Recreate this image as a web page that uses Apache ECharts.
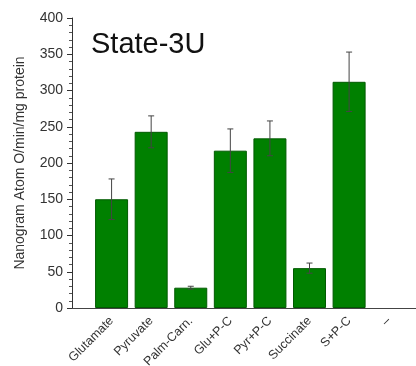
<!DOCTYPE html>
<html>
<head>
<meta charset="utf-8">
<script src="https://cdn.jsdelivr.net/npm/echarts@6/dist/echarts.min.js"></script>
<style>
    html, body { margin: 0; padding: 0; background: #fff; }
    #chart { width: 416px; height: 366px; }
</style>
</head>
<body>
<div id="chart"></div>
<script>
// substrates, position 0 is left empty, last one is the blank "–"
var categories = ['', 'Glutamate', 'Pyruvate', 'Palm-Carn.', 'Glu+P-C', 'Pyr+P-C', 'Succinate', 'S+P-C', '–'];
var rates = [150, 243, 28, 217, 234, 55, 312];
var errors = [28, 22, 2, 30, 24, 7, 41];

var barData = [], errData = [];
for (var i = 0; i < rates.length; i++) {
    barData.push([i + 1, rates[i]]);
    errData.push([i + 1, rates[i] - errors[i], rates[i] + errors[i]]);
}

var fontFam = "'Liberation Sans', Arial, sans-serif";
var myChart = echarts.init(document.getElementById('chart'));
var option = {
    backgroundColor: '#fff',
    animation: false,
    title: {
        text: 'State-3U',
        left: 86,
        top: 25,
        textStyle: { fontFamily: fontFam, fontSize: 29, fontWeight: 'normal', color: '#111' }
    },
    grid: {
        left: 72,
        right: 0,
        top: 18,
        bottom: 58,
        outerBoundsMode: 'none'
    },
    xAxis: {
        type: 'value',
        min: 0,
        max: 8.69,
        interval: 1,
        splitLine: { show: false },
        axisTick: { show: false },
        axisLine: { lineStyle: { color: '#444', width: 1 } },
        axisLabel: {
            rotate: 45,
            margin: 11,
            showMaxLabel: false,
            fontFamily: fontFam,
            fontSize: 12.5,
            color: '#333',
            formatter: function (v) {
                return categories[v] || '';
            }
        }
    },
    yAxis: {
        type: 'value',
        min: 0,
        max: 400,
        interval: 50,
        name: 'Nanogram Atom O/min/mg protein',
        nameLocation: 'middle',
        nameGap: 45,
        nameTextStyle: { fontFamily: fontFam, fontSize: 14, color: '#333' },
        splitLine: { show: false },
        axisLine: { show: true, lineStyle: { color: '#333', width: 1 } },
        axisTick: { show: true, length: 5, lineStyle: { color: '#333' } },
        minorTick: { show: true, splitNumber: 5, length: 3, lineStyle: { color: '#555' } },
        axisLabel: { margin: 9, fontFamily: fontFam, fontSize: 14, color: '#333' }
    },
    series: [
        {
            name: 'rate',
            type: 'bar',
            barWidth: 33,
            itemStyle: { color: '#008000', borderColor: '#005a00', borderWidth: 1 },
            data: barData
        },
        {
            name: 'sem',
            type: 'custom',
            z: 5,
            renderItem: function (params, api) {
                var x = api.value(0);
                var lo = api.coord([x, api.value(1)]);
                var hi = api.coord([x, api.value(2)]);
                var w = 3;
                var st = { stroke: '#444', lineWidth: 1 };
                return {
                    type: 'group',
                    children: [
                        { type: 'line', shape: { x1: hi[0], y1: hi[1], x2: lo[0], y2: lo[1] }, style: st },
                        { type: 'line', shape: { x1: hi[0] - w, y1: hi[1], x2: hi[0] + w, y2: hi[1] }, style: st },
                        { type: 'line', shape: { x1: lo[0] - w, y1: lo[1], x2: lo[0] + w, y2: lo[1] }, style: st }
                    ]
                };
            },
            data: errData
        }
    ]
};
myChart.setOption(option);
</script>
</body>
</html>
